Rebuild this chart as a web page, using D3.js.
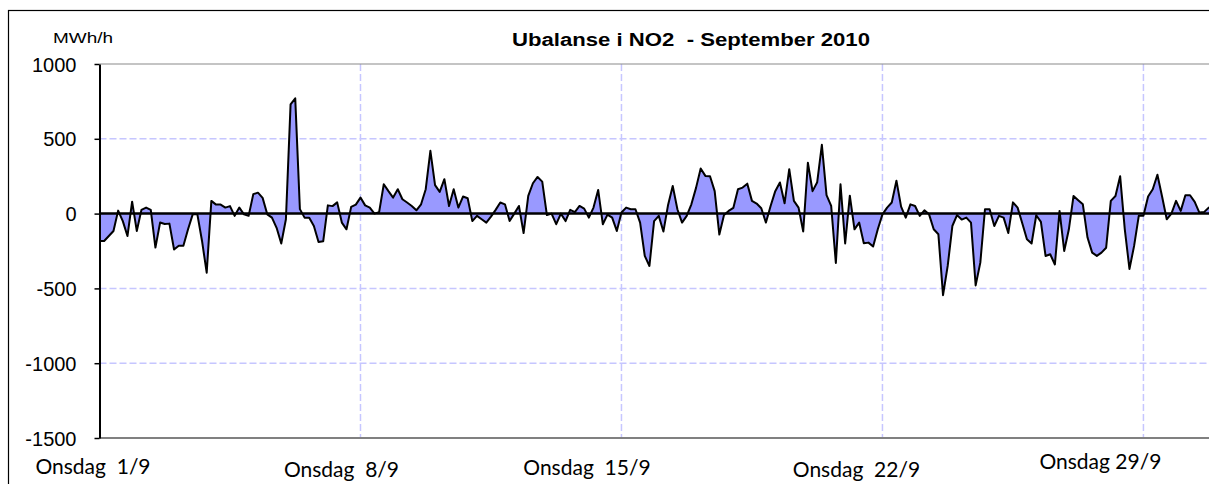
<!DOCTYPE html>
<html>
<head>
<meta charset="utf-8">
<script src="https://cdn.jsdelivr.net/npm/d3@7/dist/d3.min.js"></script>
<style>
  html, body { margin: 0; padding: 0; background: #fff; }
  svg { display: block; }
  text { white-space: pre; }
</style>
</head>
<body>
<svg id="chart" width="1209" height="484"></svg>
<script>
// ---- DATA (3-hourly imbalance readings, MWh/h, from 1 Sep 2010 00:00) ----
const week1 = [ // 1/9 - 7/9
  -183, -183, -150, -116, 20, -50, -150, 80, -116, 25,
  40, 25, -227, -60, -70, -67, -240, -215, -215, -105,
  -5, -5, -183, -395, 85, 60, 60, 40, 50, -15,
  40, -5, -15, 130, 140, 105, -5, -27, -95, -200,
  -38, 730, 770, 30, -27, -27, -83, -190, -185, 55,
  50, 75, -60, -105, 45, 60
];
const week2 = [ // 8/9 - 14/9
  107, 55, 40, 0,
  10, 196, 150, 107, 163, 96, 74, 51, 22, 62,
  163, 420, 190, 145, 230, 51, 163, 40, 114, 103,
  -50, -15, -38, -60, -20, 25, 74, 62, -50, 0,
  51, -130, 118, 203, 245, 214, -10, 0, -71, 0,
  -50, 25, 10, 51, 33, -27, 40, 158, -71, -7,
  -27, -116
];
const week3 = [ // 15/9 - 21/9
  7, 40, 29, 29, -60, -283, -350, -50,
  -15, -120, 58, 185, 29, -60, -15, 62, 172, 301,
  252, 250, 150, -140, -10, 18, 38, 163, 174, 200,
  85, 67, 36, -60, 51, 150, 208, 69, 297, 85,
  40, -120, 340, 150, 210, 460, 123, 51, -330, 196,
  -200, 120, -105, -60, -198, -194, -220, -105
];
const week4 = [ // 22/9 - 28/9
  -5, 40,
  74, 220, 47, -27, 62, 51, -15, 22, -5, -105,
  -138, -545, -350, -83, -10, -40, -27, -60, -480, -328,
  29, 29, -83, -15, -27, -130, 75, 40, -65, -172,
  -200, -11, -55, -283, -272, -340, 18, -250, -105, 118,
  90, 62, -160, -261, -283, -261, -228, 85, 118, 250,
  -105, -370, -216, -15
];
const weekTail = [ // 29/9 - 30/9
  -15, 114, 163, 260, 114, -38,
  0, 85, 18, 123, 123, 78, 7, 10, 40, 50
];
const stepHours = 3;
const yTicks = [1000, 500, 0, -500, -1000, -1500];
const tickDays = [0, 7, 14, 21, 28];
const tickLabels = ["Onsdag  1/9", "Onsdag  8/9", "Onsdag  15/9", "Onsdag  22/9", "Onsdag 29/9"];
const titleText = "Ubalanse i NO2  - September 2010";
const unitText = "MWh/h";

// ---- LAYOUT / STYLE ----
const labelDx = [-6.5, -19, -34.5, -26, -43];
const labelY = [474, 477, 475, 477, 469];

const values = [].concat(week1, week2, week3, week4, weekTail);
const data = values.map((v, i) => ({ h: i * stepHours, v: v }));

const svg = d3.select("#chart");
const x = d3.scaleLinear().domain([0, 720]).range([99.5, 1218]);
const y = d3.scaleLinear().domain([-1500, 1000]).range([438, 64]);

const gridColor = "#c6c6ff";

// horizontal grid
svg.append("g").selectAll("line")
  .data(yTicks.filter(t => t !== 1000 && t !== -1500 && t !== 0))
  .join("line")
  .attr("x1", x(0)).attr("x2", 1209)
  .attr("y1", d => y(d)).attr("y2", d => y(d))
  .attr("stroke", gridColor).attr("stroke-width", 1.5)
  .attr("stroke-dasharray", "7,3");

// vertical grid
svg.append("g").selectAll("line")
  .data(tickDays.slice(1))
  .join("line")
  .attr("x1", d => x(d * 24)).attr("x2", d => x(d * 24))
  .attr("y1", y(1000)).attr("y2", y(-1500))
  .attr("stroke", gridColor).attr("stroke-width", 1.5)
  .attr("stroke-dasharray", "7,3");

// plot top border & bottom axis (gray)
svg.append("line")
  .attr("x1", x(0)).attr("x2", 1209)
  .attr("y1", y(1000)).attr("y2", y(1000))
  .attr("stroke", "#8a8a8a").attr("stroke-width", 1.2);
svg.append("line")
  .attr("x1", x(0)).attr("x2", 1209)
  .attr("y1", y(-1500)).attr("y2", y(-1500))
  .attr("stroke", "#808080").attr("stroke-width", 2);

// area
const area = d3.area()
  .x(d => x(d.h))
  .y0(y(0))
  .y1(d => y(d.v));
svg.append("path")
  .datum(data)
  .attr("d", area)
  .attr("fill", "#9999ff");

// zero line
svg.append("line")
  .attr("x1", x(0)).attr("x2", 1209)
  .attr("y1", y(0)).attr("y2", y(0))
  .attr("stroke", "#000").attr("stroke-width", 2.5);

// data line
const line = d3.line().x(d => x(d.h)).y(d => y(d.v));
svg.append("path")
  .datum(data)
  .attr("d", line)
  .attr("fill", "none")
  .attr("stroke", "#000")
  .attr("stroke-width", 2)
  .attr("stroke-linejoin", "round");

// y axis
const yAxis = d3.axisLeft(y).tickValues(yTicks).tickSize(5).tickSizeOuter(0).tickFormat(d => String(d));
const gy = svg.append("g").attr("transform", `translate(${x(0)},0)`).call(yAxis);
gy.select(".domain").attr("stroke", "#000").attr("stroke-width", 2);
gy.selectAll(".tick line").attr("stroke", "#000").attr("stroke-width", 1.5);
gy.selectAll(".tick text")
  .attr("x", -23)
  .attr("dy", "0.35em")
  .attr("font-family", "'Liberation Sans', Arial, sans-serif")
  .attr("font-size", 20)
  .attr("fill", "#000");

// x labels
svg.append("g").selectAll("text")
  .data(tickDays)
  .join("text")
  .attr("x", (d, i) => x(d * 24) + labelDx[i])
  .attr("y", (d, i) => labelY[i])
  .attr("text-anchor", "middle")
  .attr("font-family", "Lato, 'Open Sans', sans-serif")
  .attr("font-size", 21)
  .attr("fill", "#000")
  .text((d, i) => tickLabels[i]);

// title
svg.append("text")
  .attr("x", 691).attr("y", 46)
  .attr("text-anchor", "middle")
  .attr("font-family", "'Liberation Sans', Arial, sans-serif")
  .attr("font-weight", "bold")
  .attr("font-size", 18)
  .attr("textLength", 358)
  .attr("lengthAdjust", "spacingAndGlyphs")
  .text(titleText);

// unit
svg.append("text")
  .attr("x", 53).attr("y", 43)
  .attr("font-family", "'Liberation Sans', Arial, sans-serif")
  .attr("font-size", 15)
  .attr("textLength", 60)
  .attr("lengthAdjust", "spacingAndGlyphs")
  .text(unitText);

// chart border
svg.append("rect")
  .attr("x", 8.5).attr("y", 10.5)
  .attr("width", 1240).attr("height", 520)
  .attr("fill", "none").attr("stroke", "#000").attr("stroke-width", 1.2);
</script>
</body>
</html>
